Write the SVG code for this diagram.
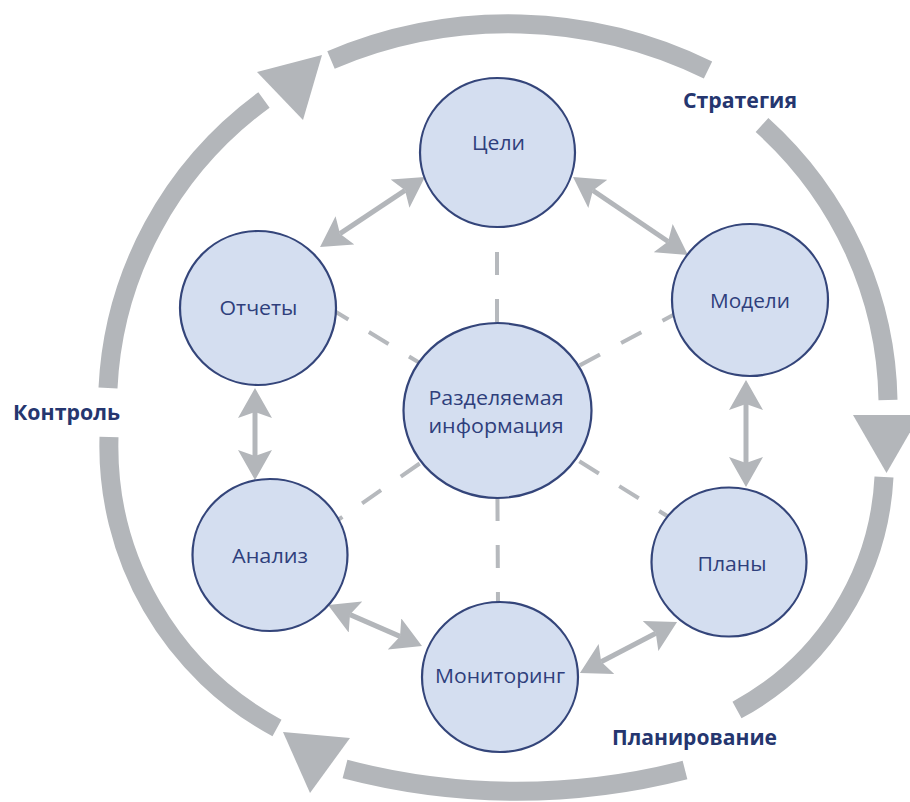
<svg xmlns="http://www.w3.org/2000/svg" width="910" height="802" viewBox="0 0 910 802">
  <defs>
    <style>
      .ring { fill: none; stroke: #b3b6ba; stroke-width: 19; stroke-linecap: butt; }
      .ringhead { fill: #b3b6ba; stroke: none; }
      .spoke { stroke: #b6b9bd; stroke-width: 4; stroke-dasharray: 23 24; fill: none; }
      .arrow { stroke: #b3b6ba; stroke-width: 5; fill: none; marker-start: url(#head); marker-end: url(#head); }
      .node { fill: #d4def0; stroke: #34457a; stroke-width: 2.2; }
      .nt { font-family: "Open Sans", "Noto Sans", "DejaVu Sans", sans-serif; font-size: 20px; fill: #2f3f7c; text-anchor: middle; }
      .lbl { font-family: "Open Sans", "Noto Sans", "DejaVu Sans", sans-serif; font-size: 21px; font-weight: bold; fill: #25366f; }
    </style>
    <marker id="head" viewBox="0 0 30 34" refX="6" refY="17" markerWidth="30" markerHeight="34" markerUnits="userSpaceOnUse" orient="auto-start-reverse">
      <path d="M0,0 L30,17 L0,34 L6,17 Z" fill="#b3b6ba"/>
    </marker>
  </defs>
  <rect width="910" height="802" fill="#ffffff"/>

  <g id="ring">
    <path class="ring" d="M108,388 A390,382 0 0 1 264,100"/>
    <path class="ring" d="M331,60 A454,454 0 0 1 708,70"/>
    <path class="ring" d="M762,125 A390,382 0 0 1 888,400"/>
    <path class="ring" d="M884,477 A281,281 0 0 1 737,710"/>
    <path class="ring" d="M685,770 A677,677 0 0 1 345,769"/>
    <path class="ring" d="M277,728 A320,320 0 0 1 109,437"/>
    <polygon class="ringhead" points="257,72 322,55 303,120"/>
    <polygon class="ringhead" points="853,415 920,415 886.5,473"/>
    <polygon class="ringhead" points="283,732 350,738 310,793"/>
  </g>

  <g id="connectors">
    <line class="spoke" x1="497" y1="410" x2="497" y2="226" stroke-dashoffset="6"/>
    <line class="spoke" x1="497" y1="410" x2="498" y2="606" stroke-dashoffset="6"/>
    <line class="spoke" x1="497" y1="410" x2="336" y2="312" stroke-dashoffset="14"/>
    <line class="spoke" x1="497" y1="410" x2="338" y2="520" stroke-dashoffset="0"/>
    <line class="spoke" x1="497" y1="410" x2="675" y2="314" stroke-dashoffset="0"/>
    <line class="spoke" x1="497" y1="410" x2="672" y2="519" stroke-dashoffset="44"/>
    <line class="arrow" x1="340" y1="233.7" x2="405" y2="190.3"/>
    <line class="arrow" x1="592.9" y1="190.5" x2="668.1" y2="241.5"/>
    <line class="arrow" x1="746" y1="404" x2="746" y2="463"/>
    <line class="arrow" x1="655.8" y1="633.2" x2="601.2" y2="661.8"/>
    <line class="arrow" x1="400" y1="636.4" x2="350" y2="614.6"/>
    <line class="arrow" x1="255" y1="456" x2="255" y2="412"/>
  </g>

  <g id="node-celi">
    <ellipse class="node" cx="497.5" cy="152.5" rx="77.5" ry="74.5"/>
    <text class="nt" x="498.5" y="150" textLength="53" lengthAdjust="spacingAndGlyphs">Цели</text>
  </g>
  <g id="node-modeli">
    <ellipse class="node" cx="750" cy="300" rx="78" ry="76"/>
    <text class="nt" x="750" y="308" textLength="80" lengthAdjust="spacingAndGlyphs">Модели</text>
  </g>
  <g id="node-plany">
    <ellipse class="node" cx="729" cy="562" rx="77.5" ry="74.5"/>
    <text class="nt" x="732" y="571" textLength="69" lengthAdjust="spacingAndGlyphs">Планы</text>
  </g>
  <g id="node-monitoring">
    <ellipse class="node" cx="500" cy="677" rx="78" ry="75"/>
    <text class="nt" x="500" y="683" textLength="130" lengthAdjust="spacingAndGlyphs">Мониторинг</text>
  </g>
  <g id="node-analiz">
    <ellipse class="node" cx="270" cy="555" rx="77.5" ry="76"/>
    <text class="nt" x="270" y="563" textLength="76" lengthAdjust="spacingAndGlyphs">Анализ</text>
  </g>
  <g id="node-otchety">
    <ellipse class="node" cx="258" cy="308" rx="78" ry="77"/>
    <text class="nt" x="258.5" y="315" textLength="78" lengthAdjust="spacingAndGlyphs">Отчеты</text>
  </g>
  <g id="node-center">
    <ellipse class="node" cx="497.5" cy="410.5" rx="94" ry="87.5"/>
    <text class="nt" x="496" y="405" textLength="135" lengthAdjust="spacingAndGlyphs">Разделяемая</text>
    <text class="nt" x="496" y="433" textLength="135" lengthAdjust="spacingAndGlyphs">информация</text>
  </g>

  <g id="labels">
    <text class="lbl" x="683" y="108" textLength="114" lengthAdjust="spacingAndGlyphs">Стратегия</text>
    <text class="lbl" x="13" y="420" textLength="107" lengthAdjust="spacingAndGlyphs">Контроль</text>
    <text class="lbl" x="612" y="745" textLength="165" lengthAdjust="spacingAndGlyphs">Планирование</text>
  </g>
</svg>
